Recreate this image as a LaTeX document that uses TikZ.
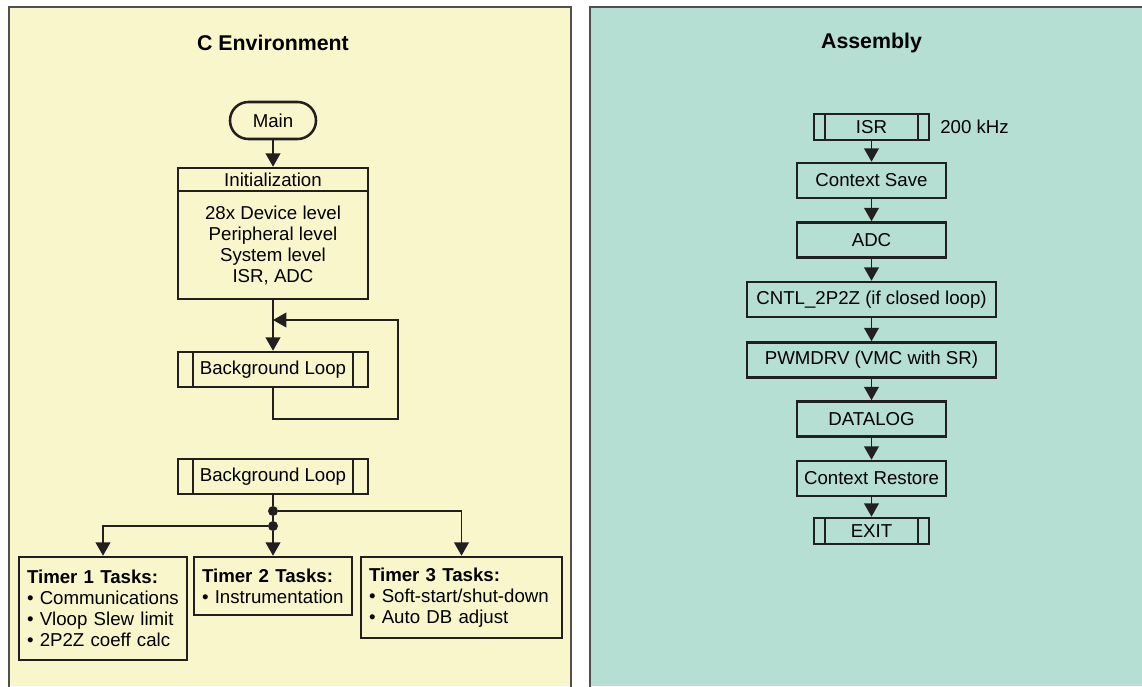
\documentclass[tikz,border=0pt]{standalone}
\usepackage{fontspec}
\setmainfont{Liberation Sans}
\usetikzlibrary{arrows.meta}
\definecolor{ink}{HTML}{231F20}
\definecolor{cpanel}{HTML}{F9F6CC}
\definecolor{asmpanel}{HTML}{B4DFD2}
\definecolor{rim}{HTML}{505050}
\tikzset{
	box/.style={draw=ink, line width=1.9pt, inner sep=2pt, minimum height=26.25pt},
	subbox/.style={box, path picture={
		\draw[ink, line width=0.9pt]
			([xshift=#1]path picture bounding box.north west) -- ([xshift=#1]path picture bounding box.south west)
			([xshift=-#1]path picture bounding box.north east) -- ([xshift=-#1]path picture bounding box.south east);}},
	subbox/.default=11.25pt,
	tasks/.style={box, align=left, inner xsep=6pt},
	flow/.style={draw=ink, line width=1.3pt, -{Triangle[width=11pt,length=10pt]}},
	conn/.style={draw=ink, line width=1.3pt},
	dot/.style={circle, fill=ink, inner sep=0pt, minimum size=7.5pt},
	title/.style={font=\fontsize{16}{18}\selectfont\bfseries},
}

\begin{document}
\begin{tikzpicture}[x=0.75pt, y=-0.75pt, font=\fontsize{14}{15.75}\selectfont]
	\useasboundingbox (0,0) rectangle (1142,686);

	%PANELS
	\fill[cpanel] (9,7) rectangle (571,686);
	\draw[rim, line width=1.2pt] (9,690) -- (9,7) -- (571,7) -- (571,690);
	\fill[asmpanel] (590,7) rectangle (1142,686);
	\draw[rim, line width=1.2pt] (590,690) -- (590,7) -- (1146,7);

	\node[title] (ctitle) at (273,43) {C Environment};
	\node[title] (asmtitle) at (871.5,43) {Assembly};

	%C ENVIRONMENT
	\node[box, rounded corners=13.8pt, minimum width=64.5pt, minimum height=27.75pt] (main) at (273,120.5) {Main};
	\node[box, minimum width=142.5pt, minimum height=17.25pt] (inithead) at (273,179.5) {Initialization};
	\node[box, minimum width=142.5pt, minimum height=81pt, align=center] (initbody) at (273,245)
		{28x Device level\\Peripheral level\\System level\\ISR, ADC};
	\node[subbox, minimum width=142.5pt] (bgloop) at (273,369.5) {Background Loop};
	\coordinate (loopin) at (273,320);
	\coordinate (loopturn) at (398,419);

	\node[subbox, minimum width=142.5pt] (bgtimer) at (273,476.5) {Background Loop};
	\node[dot] (forkA) at (273,511) {};
	\node[dot] (forkB) at (273,526) {};

	\node[tasks, text width=114pt, minimum height=77.25pt] (timer1) at (103,608.5)
		{\textbf{Timer 1 Tasks:}\\\textbullet{} Communications\\\textbullet{} Vloop Slew limit\\\textbullet{} 2P2Z coeff calc};
	\node[tasks, text width=106.5pt, minimum height=43.5pt] (timer2) at (273,586)
		{\textbf{Timer 2 Tasks:}\\\textbullet{} Instrumentation};
	\node[tasks, text width=138.75pt, minimum height=60.75pt] (timer3) at (461.5,597.5)
		{\textbf{Timer 3 Tasks:}\\\textbullet{} Soft-start/shut-down\\\textbullet{} Auto DB adjust};

	%ASSEMBLY
	\node[subbox=8.25pt, minimum width=86.25pt, minimum height=19.5pt] (isr) at (871.5,127) {ISR};
	\node[anchor=west, xshift=4pt] (rate) at (isr.east) {200 kHz};
	\node[box, minimum width=111.75pt] (save) at (871.5,180.5) {Context Save};
	\node[box, minimum width=111.75pt] (adc) at (871.5,240) {ADC};
	\node[box, minimum width=186.75pt] (cntl) at (871.5,299.5) {CNTL\_2P2Z (if closed loop)};
	\node[box, minimum width=186.75pt] (pwm) at (871.5,360) {PWMDRV (VMC with SR)};
	\node[box, minimum width=111.75pt] (dlog) at (871.5,419) {DATALOG};
	\node[box, minimum width=111.75pt] (restore) at (871.5,478.5) {Context Restore};
	\node[subbox=8.25pt, minimum width=86.25pt, minimum height=19.5pt] (exit) at (871.5,531) {EXIT};

	%LINES
	\draw[flow] (main) -- (inithead);
	\draw[flow] (initbody) -- (bgloop);
	\draw[flow] (bgloop.south) |- (loopturn) |- (loopin);

	\draw[conn] (bgtimer) -- (forkA);
	\draw[conn] (forkA) -- (forkB);
	\draw[flow] (forkB) -- (timer2);
	\draw[flow] (forkA) -| (timer3);
	\draw[flow] (forkB) -| (timer1);

	\draw[flow] (isr) -- (save);
	\draw[flow] (save) -- (adc);
	\draw[flow] (adc) -- (cntl);
	\draw[flow] (cntl) -- (pwm);
	\draw[flow] (pwm) -- (dlog);
	\draw[flow] (dlog) -- (restore);
	\draw[flow] (restore) -- (exit);
\end{tikzpicture}
\end{document}
